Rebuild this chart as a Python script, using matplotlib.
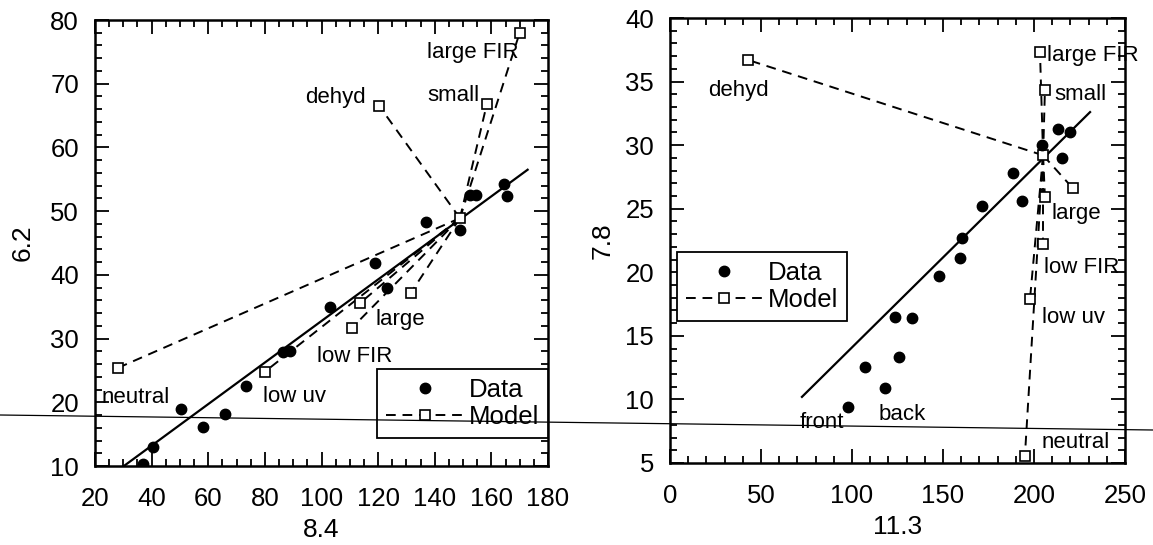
import numpy as np
import matplotlib.pyplot as plt
from matplotlib.lines import Line2D
from matplotlib.ticker import MultipleLocator

plt.rcParams['font.family'] = ['Liberation Sans', 'DejaVu Sans']

# Panel 1 : 6.2 vs 8.4
data1_x = [37, 40.5, 50.5, 58, 66, 73.5, 86.5, 89, 103, 119, 123, 137, 149, 152.5, 154.5, 164.5, 165.5]
data1_y = [10.3, 13.0, 18.9, 16.1, 18.1, 22.5, 27.9, 28.0, 35.0, 41.9, 38.0, 48.3, 47.0, 52.5, 52.5, 54.3, 52.4]
fit1_x = [30.2, 172.8]
fit1_y = [10.0, 56.5]
center1 = (148.9, 48.9)
model1_x = [28.1, 80.0, 110.8, 113.7, 131.6, 120.4, 158.4, 170.0]
model1_y = [25.4, 24.8, 31.7, 35.6, 37.2, 66.5, 66.8, 78.0]
model1_labels = ['neutral', 'low uv', 'low FIR', 'large', '', 'dehyd', 'small', 'large FIR']

# Panel 2 : 7.8 vs 11.3
data2_x = [97.8, 107, 118, 125.8, 123.6, 133, 147.8, 159.3, 160.4, 171.4, 193.4, 188.5, 204.4, 213.2, 219.8, 215.4]
data2_y = [9.4, 12.55, 10.9, 13.3, 16.5, 16.4, 19.7, 21.1, 22.7, 25.2, 25.6, 27.8, 30.0, 31.3, 31.0, 29.0]
fit2_x = [72.5, 230.8]
fit2_y = [10.2, 32.6]
center2 = (205.0, 29.2)
model2_x = [42.9, 203.3, 206.0, 221.4, 206.0, 205.0, 197.8, 195.0]
model2_y = [36.7, 37.3, 34.3, 26.6, 25.9, 22.2, 17.9, 5.55]
model2_labels = ['dehyd', 'large FIR', 'small', '', 'large', 'low FIR', 'low uv', 'neutral']
data2_notes = ['front', 'back']
data2_notes_xy = [(83.5, 8.2), (127.5, 8.8)]

# label placement (offset in points, horizontal alignment)
lab1_style = [(-12, -21, 'left'), (-1, -18, 'left'), (-25, -21, 'left'), (11, -12, 'left'),
              (0, 0, 'left'), (-10, 6, 'right'), (-5, 6.5, 'right'), (-1, -14, 'right')]
lab2_style = [(-29, -22, 'left'), (5, -2, 'left'), (7, -3, 'left'), (0, 0, 'left'),
              (5, -12, 'left'), (1, -17, 'left'), (9, -13, 'left'), (12, 10, 'left')]

FS = 18.5
fig = plt.figure(figsize=(11.53, 5.45), dpi=100)
ax1 = fig.add_axes([95 / 1153, 1 - 466 / 545, 453 / 1153, 446 / 545])
ax2 = fig.add_axes([670 / 1153, 1 - 463 / 545, 455 / 1153, 445 / 545])

dash = (0, (5, 3.5))


def draw_panel(ax, dx, dy, fx, fy, c, mx, my, labels, styles):
    for x, y in zip(mx, my):
        ax.plot([c[0], x], [c[1], y], color='black', lw=1.4, linestyle=dash)
    ax.plot(mx + [c[0]], my + [c[1]], linestyle='none', marker='s', ms=7,
            mfc='white', mec='black', mew=1.2, zorder=4)
    ax.plot(fx, fy, color='black', lw=1.6)
    ax.plot(dx, dy, linestyle='none', marker='o', ms=7.5, color='black', zorder=5)
    for x, y, t, (ox, oy, ha) in zip(mx, my, labels, styles):
        if t:
            ax.annotate(t, (x, y), xytext=(ox, oy), textcoords='offset points',
                        ha=ha, va='center', fontsize=16)
    # legend handles
    h1 = Line2D([], [], linestyle='none', marker='o', ms=7.5, color='black')
    h2 = Line2D([], [], color='black', lw=1.4, linestyle=dash, marker='s', ms=7,
                mfc='white', mec='black', mew=1.2)
    return h1, h2


leg_kw = dict(fontsize=FS, fancybox=False, edgecolor='black', framealpha=1,
              handlelength=3.0, handletextpad=0.2, labelspacing=0.1,
              borderpad=0.35, borderaxespad=0)

h1, h2 = draw_panel(ax1, data1_x, data1_y, fit1_x, fit1_y, center1,
                    model1_x, model1_y, model1_labels, lab1_style)
leg = ax1.legend([h1, h2], ['Data', 'Model'], loc='lower right',
                 bbox_to_anchor=(1.0, 28 / 446), **leg_kw)
leg.get_frame().set_linewidth(1.3)
ax1.set_xlim(20, 180)
ax1.set_ylim(10, 80)
ax1.xaxis.set_major_locator(MultipleLocator(20))
ax1.xaxis.set_minor_locator(MultipleLocator(5))
ax1.yaxis.set_major_locator(MultipleLocator(10))
ax1.yaxis.set_minor_locator(MultipleLocator(2))
ax1.set_xlabel('8.4', fontsize=19, labelpad=5)
ax1.set_ylabel('6.2', fontsize=19, labelpad=11)

h1, h2 = draw_panel(ax2, data2_x, data2_y, fit2_x, fit2_y, center2,
                    model2_x, model2_y, model2_labels, lab2_style)
for t, (x, y) in zip(data2_notes, data2_notes_xy):
    ax2.text(x, y, t, ha='center', va='center', fontsize=16)
leg = ax2.legend([h1, h2], ['Data', 'Model'], loc='upper left',
                 bbox_to_anchor=(0.015, 0.474), **leg_kw)
leg.get_frame().set_linewidth(1.3)
ax2.set_xlim(0, 250)
ax2.set_ylim(5, 40)
ax2.xaxis.set_major_locator(MultipleLocator(50))
ax2.xaxis.set_minor_locator(MultipleLocator(10))
ax2.yaxis.set_major_locator(MultipleLocator(5))
ax2.yaxis.set_minor_locator(MultipleLocator(1))
ax2.set_xlabel('11.3', fontsize=19, labelpad=5)
ax2.set_ylabel('7.8', fontsize=19, labelpad=8)

for ax in (ax1, ax2):
    for s in ax.spines.values():
        s.set_linewidth(1.8)
    ax.tick_params(which='both', direction='in', top=True, right=True,
                   labelsize=FS, width=1.3)
    ax.tick_params(axis='x', which='both', pad=15)
    ax.tick_params(axis='y', which='both', pad=11.5)
    ax.tick_params(which='major', length=10)
    ax.tick_params(which='minor', length=5)

# faint scan line crossing the page
fig.add_artist(Line2D([0, 1], [1 - 415 / 545, 1 - 430 / 545], color='black', lw=0.9,
                      transform=fig.transFigure))

fig.savefig('out.png', dpi=100)
